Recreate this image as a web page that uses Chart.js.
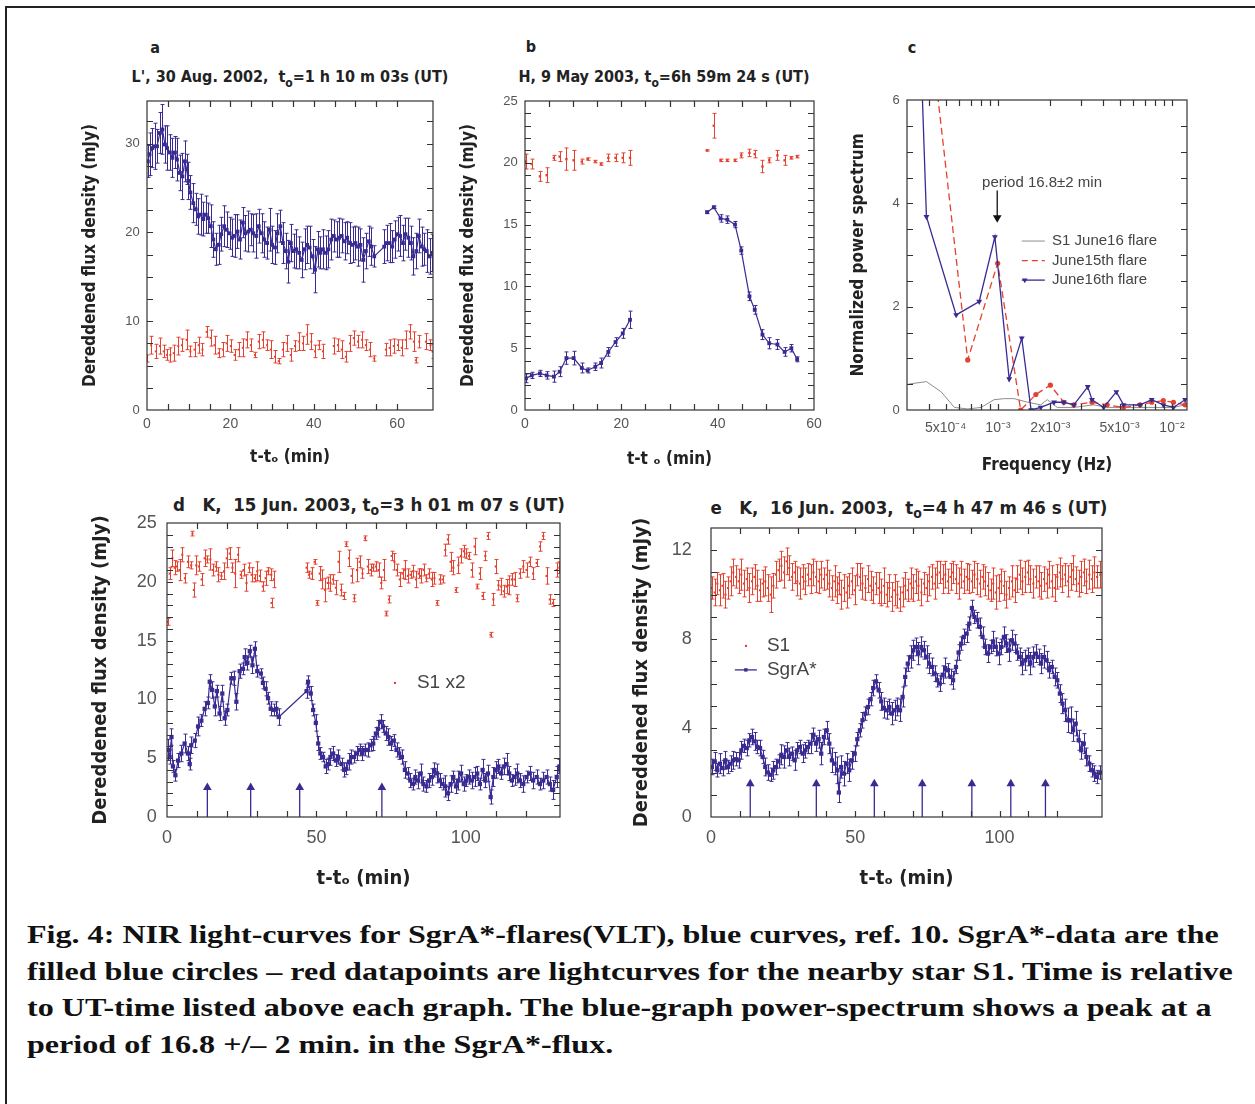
<!DOCTYPE html>
<html>
<head>
<meta charset="utf-8">
<script src="https://cdn.jsdelivr.net/npm/chart.js@4.4.1/dist/chart.umd.min.js"></script>
<style>
  body { margin: 0; background: #fff; width: 1255px; height: 1104px; position: relative; overflow: hidden;
         font-family: "Liberation Sans", Arial, sans-serif; }
  .frame { position: absolute; left: 5px; top: 6px; width: 1260px; height: 1200px;
           border-left: 2px solid #222; border-top: 2px solid #222; }
  canvas { position: absolute; }
  .hd { position: absolute; font-family: "Liberation Sans Narrow", "DejaVu Sans Condensed", "Liberation Sans", sans-serif;
        font-weight: bold; color: #222; white-space: pre; transform: translate(-50%, -50%); line-height: 1; }
  .hd sub { font-size: 0.75em; vertical-align: -0.35em; }
  .caption { position: absolute; left: 27px; top: 917px; font-family: "Liberation Serif", "Times New Roman", serif;
             font-weight: bold; font-size: 24.5px; line-height: 36.7px; color: #111; white-space: nowrap;
             transform: scaleX(1.31); transform-origin: 0 0; }
</style>
</head>
<body>
<div class="frame"></div>

<div class="hd" style="left:155px;top:48px;font-size:16px">a</div>
<div class="hd" style="left:290px;top:79px;font-size:16px">L', 30 Aug. 2002,  t<sub>o</sub>=1 h 10 m 03s (UT)</div>
<div class="hd" style="left:531px;top:47px;font-size:16px">b</div>
<div class="hd" style="left:664px;top:79px;font-size:16px">H, 9 May 2003, t<sub>o</sub>=6h 59m 24 s (UT)</div>
<div class="hd" style="left:912px;top:48px;font-size:16px">c</div>
<div class="hd" style="left:369px;top:507px;font-size:18.5px">d   K,  15 Jun. 2003, t<sub>o</sub>=3 h 01 m 07 s (UT)</div>
<div class="hd" style="left:909px;top:510px;font-size:18.5px">e   K,  16 Jun. 2003,  t<sub>o</sub>=4 h 47 m 46 s (UT)</div>

<canvas id="ca"></canvas>
<canvas id="cb"></canvas>
<canvas id="cc"></canvas>
<canvas id="cd"></canvas>
<canvas id="ce"></canvas>

<div class="caption">Fig. 4: NIR light-curves for SgrA*-flares(VLT), blue curves, ref. 10. SgrA*-data are the<br>filled blue circles – red datapoints are lightcurves for the nearby star S1. Time is relative<br>to UT-time listed above each graph. The blue-graph power-spectrum shows a peak at a<br>period of 16.8 +/– 2 min. in the SgrA*-flux.</div>

<script>
"use strict";

// ── panel a: L', 30 Aug 2002 ──────────────────────────────────────────────
const A_T_SGR = [0.2,0.6,1.3,1.8,2.4,3.1,3.7,4.3,4.8,5.5, 6.1,6.7,7.2,7.9,8.5,9.1,9.5,9.9,10.4,11.1,
  11.7,12.3,12.9,13.5,14.1,14.7,15.3,15.9,16.5,17.2, 17.8,18.5,19.1,19.8,20.4,21.0,21.7,22.3,23.0,23.6,
  24.3,24.9,25.5,26.2,26.8,27.5,28.1,28.8,29.4,30.0, 30.7,31.3,32.0,32.6,33.3,33.9,34.5,35.2,35.8,36.5,
  37.1,37.8,38.4,39.0,39.7,40.3,41.0,41.6,42.2,42.9, 43.5,44.2,44.8,45.5,46.1,46.7,47.4,48.0,48.7,49.3,
  50.0,50.6,51.2,51.9,52.5,53.2,53.8,54.5,56.9,57.5, 58.2,58.8,59.4,60.1,60.7,61.4,62.0,62.7,63.3,63.9,
  64.6,65.2,65.9,66.5,67.1,67.8,68.4];
const A_SGR = [28.0,28.8,29.5,29.7,29.7,31.2,31.6,29.9,29.5,29.0, 28.4,29.0,28.2,26.7,26.3,28.0,27.1,25.8,24.5,23.3,
  22.6,21.8,22.0,21.5,22.0,21.6,20.7,19.2,18.1,18.6, 19.8,20.7,20.3,19.9,19.4,19.6,20.1,19.2,21.1,19.9,
  20.1,20.3,19.9,19.6,20.7,19.9,19.2,18.8,20.3,18.6, 18.3,19.9,20.7,18.8,17.9,16.7,18.8,17.9,18.1,17.7,
  16.9,18.1,18.6,18.3,17.3,15.8,18.1,17.7,18.1,17.7, 18.1,19.2,19.6,19.2,19.4,19.6,19.0,19.4,18.8,18.6,
  18.8,18.4,18.6,16.9,17.9,19.0,18.4,17.3,18.4,18.8, 18.8,18.4,19.2,19.8,19.6,18.8,19.8,19.4,18.8,17.3,
  17.9,19.6,18.4,18.1,17.9,17.3,17.7];
const A_SGR_ERR = [1.8,2.4,2.2,2.6,1.9,2.3,2.8,2.1,2.5,2.0, 2.2,1.8,2.4,2.0,2.6,2.3,1.7,2.1,1.9,2.2,
  1.8,2.0,2.3,1.9,2.1,1.7,2.4,2.0,1.8,2.2, 1.9,2.3,2.0,1.8,2.1,2.4,1.9,2.2,1.7,2.0,
  2.3,1.8,2.1,2.5,1.9,2.2,2.0,1.8,2.4,2.1, 1.9,2.2,1.8,2.3,2.0,2.4,2.1,1.9,2.2,1.8,
  2.0,2.3,2.1,2.4,1.9,2.6,2.0,1.8,2.2,1.9, 2.1,2.3,1.8,2.0,2.2,1.9,2.1,1.8,2.3,2.0,
  1.9,2.2,1.8,2.5,2.0,1.7,2.1,1.2,1.9,2.0, 2.2,1.8,2.1,1.9,2.3,2.0,1.8,2.2,1.9,2.1,
  2.0,1.9,2.2,1.8,2.4,2.0,2.1];
const A_T_S1 = [0.0,1.0,2.1,3.1,4.0,4.8,5.6,6.4,7.5,8.4, 9.5,10.4,11.4,12.4,13.3,14.3,15.3,16.2,17.2,18.2,
  19.1,20.1,21.0,22.0,23.0,23.9,24.9,25.9,26.8,27.8, 28.8,29.7,30.7,31.6,32.6,33.6,34.5,35.5,36.5,37.4,
  38.4,39.4,40.3,41.3,42.2,44.8,45.8,46.7,47.7,48.7, 49.6,50.6,51.6,52.5,53.5,54.5,57.3,58.2,59.2,60.2,
  61.1,62.1,63.1,64.0,64.5,65.3,66.9,68.0,68.5];
const A_S1 = [5.8,7.3,6.6,7.2,6.6,6.2,6.2,6.4,7.2,7.3, 7.9,6.6,6.8,7.3,6.8,8.8,8.1,7.3,6.4,6.8,
  7.5,7.2,6.2,6.8,7.0,7.9,7.3,6.2,7.7,7.9, 7.3,6.8,6.0,5.5,6.8,7.5,6.2,7.2,7.7,7.5,
  8.5,7.7,6.6,7.3,6.6,7.2,7.3,6.8,6.0,7.5, 8.1,7.7,7.9,7.3,6.8,5.8,6.8,7.0,7.2,7.3,
  7.0,7.9,8.8,7.7,5.6,7.7,7.7,7.3,6.6];
const A_S1_ERR = [0.4,1.0,0.8,0.9,0.7,0.6,0.8,0.9,1.0,0.7, 1.1,0.6,0.8,0.9,0.7,0.6,0.9,1.0,0.5,0.8,
  0.9,0.7,0.6,0.8,1.0,0.9,0.7,0.3,0.8,0.9, 0.6,1.0,0.7,0.3,0.8,0.9,0.7,0.6,1.0,0.8,
  1.1,0.9,0.7,0.5,0.8,0.9,0.7,1.0,0.6,0.9, 0.8,0.7,0.9,0.6,0.8,0.3,0.7,0.9,0.8,0.6,
  0.9,1.0,0.8,1.1,0.3,0.7,0.9,0.6,0.8];

// ── panel b: H, 9 May 2003 (null = gap in the observation) ───────────────
const B_T = [0.2,1.4,3.1,4.5,6.0,7.2,8.6,10.1,11.8,13.0,14.6,15.8,17.3,18.8,20.3,21.8, 30,
  37.8,39.2,40.6,42.0,43.6,44.9,46.6,47.7,49.3,50.7,52.4,53.9,55.3,56.5];
const B_SGR = [2.56,2.8,2.96,2.8,2.7,3.1,4.2,4.2,3.4,3.2,3.5,3.8,4.7,5.5,6.2,7.3, null,
  16.0,16.4,15.5,15.4,15.0,12.9,9.2,8.1,6.1,5.4,5.3,4.7,5.0,4.1];
const B_SGR_ERR = [0.35,0.25,0.25,0.3,0.45,0.4,0.5,0.55,0.4,0.2,0.3,0.4,0.35,0.35,0.4,0.7, null,
  0.1,0.1,0.3,0.3,0.25,0.3,0.35,0.35,0.4,0.45,0.4,0.35,0.3,0.2];
const B_S1 = [20.1,19.9,18.9,19.0,20.4,20.5,20.3,20.2,20.1,20.3,20.1,19.9,20.4,20.4,20.4,20.4, null,
  21.0,23.0,20.2,20.2,20.2,20.6,20.8,20.7,19.7,20.2,20.6,20.2,20.4,20.5];
const B_S1_ERR = [0.6,0.4,0.4,0.6,0.2,0.4,0.9,0.8,0.2,0.1,0.1,0.1,0.3,0.3,0.4,0.6, null,
  0.05,1.0,0.1,0.1,0.1,0.2,0.3,0.3,0.5,0.2,0.4,0.4,0.1,0.1];

// ── panel c: power spectra ────────────────────────────────────────────────
const C_F_JUN16 = [3.3e-4,3.88e-4,5.75e-4,7.8e-4,9.6e-4,1.16e-3,1.37e-3,1.55e-3,1.76e-3,2.1e-3,2.39e-3,
  2.73e-3,3.28e-3,3.47e-3,4.05e-3,4.79e-3,5.27e-3,6.56e-3,7.65e-3,8.92e-3,1.02e-2,1.19e-2];
const C_JUN16 = [10.7,3.74,1.84,2.1,3.35,0.6,1.39,0.0,0.05,0.15,0.15,0.1,0.45,0.2,0.05,0.35,0.1,0.1,0.2,0.1,0.05,0.2];
const C_F_JUN15 = [3.88e-4,6.7e-4,9.96e-4,1.35e-3,1.65e-3,2.0e-3,2.39e-3,2.73e-3,3.47e-3,4.24e-3,5.27e-3,
  6.56e-3,7.65e-3,8.92e-3,1.02e-2,1.19e-2];
const C_JUN15 = [8.0,0.97,2.84,0.0,0.3,0.48,0.15,0.1,0.15,0.1,0.05,0.1,0.15,0.18,0.15,0.1];
const C_F_S1 = [3.05e-4,3.88e-4,4.72e-4,5.62e-4,6.7e-4,8.0e-4,9.5e-4,1.09e-3,1.24e-3,1.48e-3,1.76e-3,1.92e-3,
  2.19e-3,2.73e-3,3.55e-3,4.24e-3,6.56e-3,1.02e-2,1.19e-2];
const C_S1 = [0.5,0.55,0.35,0.05,0.02,0.05,0.2,0.22,0.22,0.15,0.1,0.2,0.05,0.05,0.1,0.05,0.05,0.05,0.1];
const C_PERIOD_F = 9.9e-4;
const C_PERIOD_ARROW = [4.25, 3.72];
const C_TICKS = [5e-4, 1e-3, 2e-3, 5e-3, 1e-2];
const C_TICK_LABELS = ["5x10⁻⁴", "10⁻³", "2x10⁻³", "5x10⁻³", "10⁻²"];
const C_MINOR = [3e-4, 4e-4, 6e-4, 7e-4, 8e-4, 9e-4, 3e-3, 4e-3, 6e-3, 7e-3, 8e-3, 9e-3];

// ── panel d: K, 15 Jun 2003 ───────────────────────────────────────────────
const D_T_SGR = [0.3,0.9,1.5,2.0,2.8,3.7,4.8,5.9,7.0,7.6, 8.1,9.3,10.4,11.5,12.6,13.7,14.3,15.1,16.0,16.7,
  17.6,18.5,19.3,20.2,21.5,22.3,23.2,24.3,25.4,26.0, 26.9,27.7,28.6,29.4,30.2,31.4,32.1,33.0,33.8,34.7,
  35.7,36.6,37.4,
  46.7,47.2,48.1,48.9,49.8,50.6,51.3,52.2,53.1,53.9, 54.7,55.6,56.5,57.3,58.4,59.3,60.0,60.9,61.7,62.6,
  63.6,64.5,65.4,66.3,67.2,68.1,69.0,69.9,70.6,71.5, 72.3,73.2,74.1,75.0,75.9,76.8,77.7,78.6,79.6,80.5,
  81.4,82.3,83.1,84.0,84.9,85.8,86.8,87.7,88.6,89.5, 90.4,91.3,92.2,93.1,94.0,94.9,95.8,96.7,97.5,98.4,
  99.3,100.2,101.1,102.0,102.9,103.8,104.7,105.6,106.5,107.4, 108.3,109.2,110.0,110.9,111.8,112.7,113.6,114.5,115.4,116.3,
  117.2,118.1,119.2,120.3,121.4,122.5,123.7,124.8,125.9,127.0, 128.1,129.2,130.4,131.3];
const D_SGR = [5.7,5.1,6.8,4.3,3.55,4.8,5.4,6.25,5.4,4.5, 6.1,6.5,7.7,8.2,9.2,9.7,11.5,10.8,9.4,10.7,
  8.8,10.5,8.4,9.1,11.8,11.8,9.8,12.4,12.6,13.6, 13.1,14.1,12.9,14.3,12.4,12.2,11.4,10.9,10.1,9.2,
  9.1,9.2,8.5,
  10.7,11.5,10.5,9.1,8.0,6.25,5.4,5.1,4.3,4.5, 5.1,5.4,4.8,5.1,4.5,4.0,4.1,4.7,5.1,5.1,
  5.4,5.7,5.4,5.7,5.7,6.1,6.25,7.1,7.5,8.1, 7.7,7.1,6.8,6.25,6.5,5.7,5.4,5.1,4.0,3.7,
  3.1,2.8,3.4,3.1,3.7,2.8,2.6,3.1,3.4,4.0, 3.7,3.1,2.8,2.6,2.0,2.8,3.4,2.6,3.1,3.7,
  2.8,3.1,3.4,3.1,3.4,3.7,2.8,4.0,3.1,3.7, 1.7,3.4,4.0,4.3,3.7,4.3,4.5,3.7,3.1,3.4,
  3.7,3.1,2.8,3.4,3.7,3.1,3.4,2.8,3.1,3.4, 2.8,2.3,3.4,4.3];
const D_SGR_ERR = [0.9,0.6,0.7,0.5,0.5,0.6,0.7,0.8,0.6,0.5, 0.7,0.6,0.8,0.5,0.6,0.5,0.6,0.7,0.8,0.5,
  0.6,0.7,0.6,0.5,0.5,0.6,0.7,0.6,0.5,0.7, 0.6,0.5,0.7,0.6,0.5,0.4,0.5,0.6,0.5,0.6,
  0.5,0.6,0.7,
  0.6,0.5,0.6,0.5,0.7,0.6,0.5,0.4,0.6,0.5, 0.7,0.6,0.5,0.6,0.5,0.6,0.5,0.7,0.6,0.5,
  0.6,0.5,0.6,0.5,0.6,0.5,0.6,0.5,0.7,0.6, 0.5,0.6,0.7,0.6,0.5,0.6,0.5,0.6,0.7,0.5,
  0.6,0.5,0.6,0.7,0.8,0.6,0.5,0.6,0.7,0.6, 0.8,0.6,0.5,0.9,0.6,0.7,0.5,0.6,0.8,0.7,
  0.6,0.5,0.6,0.7,0.8,0.6,0.5,0.9,0.6,0.7, 0.6,0.8,0.7,0.6,0.5,0.7,0.9,0.6,0.5,0.7,
  0.8,0.6,0.7,0.5,0.6,0.7,0.6,0.5,0.7,0.6, 0.6,0.8,0.9,0.6];
const D_T_S1 = [0.3,0.9,1.8,2.6,3.3,4.2,5.1,6.0,7.0,8.1, 8.5,9.0,9.8,10.7,11.6,12.6,13.5,14.5,15.4,16.3,
  17.2,18.2,19.1,20.0,21.0,21.9,22.8,23.8,24.7,25.6, 26.6,27.5,28.3,29.4,30.2,31.1,32.1,33.0,33.9,34.9,
  35.0,35.8,
  46.7,47.5,48.4,49.4,50.3,51.1,52.0,52.9, 53.8,54.7,55.6,56.5,57.4,58.3,59.2,60.0,60.9,61.8,
  62.7,63.6,64.5,65.4,66.3,67.2,68.1,69.0,69.9,70.8, 71.7,72.6,73.4,74.3,75.2,76.1,77.0,77.9,78.8,79.7,
  80.6,81.5,82.4,83.3,84.2,85.0,85.9,86.8,87.7,88.6, 89.5,90.4,91.3,92.2,93.1,94.0,94.9,95.8,96.7,97.5,
  98.4,99.3,100.2,101.1,102.0,102.9,103.8,104.7,105.6,106.5, 107.4,108.3,109.2,110.0,110.9,111.8,112.7,113.6,114.5,115.4,
  116.3,117.2,118.1,119.2,120.3,121.4,122.5,123.7,124.8,125.9, 127.0,128.1,129.2,130.4,131.3];
const D_S1 = [16.6,20.7,22.0,21.2,21.3,21.0,22.3,20.3,21.7,21.4, 24.1,19.3,21.4,21.3,20.2,22.0,21.9,21.9,21.0,21.3,
  20.6,20.5,20.9,22.0,22.4,21.2,20.7,22.3,20.6,21.0, 19.9,21.2,20.6,20.3,20.9,20.5,19.6,20.3,20.9,20.6,
  18.2,20.2,
  21.2,20.6,20.7,21.7,18.2,20.7,20.2,19.3, 19.9,19.9,20.2,19.5,21.7,19.3,18.8,23.2,22.0,20.5,
  18.6,21.0,21.7,20.7,23.7,21.3,21.0,21.2,21.3,21.0, 19.9,21.0,17.3,18.5,22.2,21.7,21.0,20.2,20.7,21.0,
  20.5,20.6,20.9,20.2,20.7,20.5,21.0,20.3,20.7,20.2, 20.3,18.2,20.2,20.2,22.7,23.6,21.7,21.2,19.3,21.4,
  22.2,22.6,22.4,22.2,21.0,23.0,19.6,20.7,18.8,22.2, 23.9,15.5,18.5,21.3,19.7,19.6,19.2,19.6,19.7,20.2,
  20.2,18.6,20.7,21.3,21.0,21.7,20.7,21.6,23.0,23.9, 20.5,18.5,18.2,21.0,21.2];
const D_S1_ERR = [0.3,0.5,0.7,0.6,0.4,0.9,0.6,0.4,0.5,0.3, 0.2,0.6,0.8,0.4,0.5,0.7,0.3,0.9,0.5,0.4,
  0.6,0.3,0.7,0.8,0.5,0.4,1.2,0.6,0.3,0.5, 0.7,0.4,0.6,0.3,0.8,0.5,0.4,0.6,0.3,0.5,
  0.4,0.7,
  0.4,0.3,0.5,0.2,0.2,0.6,0.8,1.0, 0.5,0.7,0.4,0.6,0.9,0.5,0.3,0.2,0.7,0.6,
  0.3,1.0,0.5,0.4,0.2,0.6,0.5,0.3,0.4,0.6, 0.5,0.9,0.2,0.3,0.4,0.7,0.5,0.6,0.4,0.8,
  0.6,0.3,0.5,0.7,0.4,0.6,0.5,0.3,0.4,0.6, 0.5,0.2,0.4,0.3,0.5,0.4,0.8,0.6,0.2,0.7,
  0.6,0.5,0.4,0.3,0.6,0.7,0.2,0.5,0.3,0.4, 0.3,0.2,0.5,0.6,0.4,0.7,0.5,0.6,0.8,0.5,
  0.6,0.3,0.4,0.5,0.6,0.4,0.5,0.3,0.4,0.3, 0.7,0.4,0.3,0.6,0.5];
const D_ARROWS = [13.5, 28.0, 44.4, 71.9];
const D_ARROW_TOP = 2.5;

// ── panel e: K, 16 Jun 2003 (S1 and SgrA* share the time grid) ───────────
const E_T = [0.3,1.3,2.2,3.1,4.0,5.0,5.9,6.8,7.7,8.7, 9.6,10.5,11.4,12.4,13.3,14.2,15.1,16.1,17.0,17.9,
  18.8,19.7,20.7,21.6,22.5,23.4,24.4,25.3,26.2,27.1, 28.1,29.0,29.9,30.8,31.8,32.7,33.6,34.5,35.5,36.4,
  37.3,38.2,39.1,40.1,41.0,41.9,42.8,43.8,44.3,45.1, 46.1,47.0,47.9,48.8,49.8,50.7,51.6,52.5,53.5,54.4,
  55.3,56.2,57.2,58.1,59.0,59.9,60.9,61.8,62.7,63.6, 64.6,65.5,66.4,67.3,68.2,69.2,70.1,71.0,71.9,72.9,
  73.8,74.7,75.6,76.6,77.5,78.4,79.3,80.3,81.2,82.1, 83.0,83.9,84.9,85.8,86.7,87.6,88.6,89.5,90.4,91.3,
  92.3,93.2,94.1,95.0,96.0,96.9,97.8,98.7,99.7,100.6, 101.5,102.4,103.3,104.3,105.2,106.1,107.0,107.9,108.9,109.8,
  110.7,111.7,112.6,113.5,114.4,115.4,116.3,117.2,118.1,119.1, 120.0,120.9,121.8,122.7,123.7,124.6,125.5,126.4,127.4,128.3,
  129.2,130.1,131.1,132.0,132.9,133.8,134.9];
const E_SGR = [2.25,2.5,2.1,2.4,2.2,2.55,2.25,2.4,2.55,2.6, 2.55,3.0,3.2,3.1,3.45,3.6,3.4,3.15,3.1,2.7,
  2.25,2.0,1.9,2.1,2.25,2.5,2.8,2.7,3.0,2.7, 2.85,2.55,3.0,3.15,2.85,3.0,3.15,3.3,3.7,3.3,
  3.5,2.85,3.6,3.9,3.3,2.55,2.4,2.1,1.1,2.25, 1.95,2.4,2.1,2.55,2.85,3.5,3.9,4.35,4.65,4.95,
  5.3,5.8,6.1,5.7,5.2,4.9,4.8,4.95,4.65,4.8, 4.95,4.8,5.4,6.3,6.9,7.2,7.5,7.65,7.35,7.65,
  7.5,7.2,6.9,6.75,6.45,6.15,6.0,6.4,6.7,6.6, 6.3,6.15,6.75,7.4,7.8,8.1,8.25,8.7,9.4,9.0,
  8.85,8.55,8.1,7.65,7.35,7.65,7.9,7.65,7.35,7.65, 8.1,7.8,7.5,7.95,7.8,7.4,7.2,6.9,7.05,7.2,
  6.9,7.2,7.35,7.2,6.9,7.2,7.05,6.6,6.75,6.3, 6.15,5.55,5.1,4.8,4.35,4.35,3.9,4.2,3.45,3.0,
  3.3,2.7,2.4,2.1,1.95,1.8,2.0];
const E_SGR_ERR = [0.35,0.4,0.3,0.45,0.35,0.4,0.3,0.35,0.4,0.3, 0.35,0.4,0.3,0.35,0.3,0.35,0.4,0.3,0.35,0.3,
  0.4,0.35,0.3,0.4,0.35,0.3,0.45,0.5,0.35,0.4, 0.3,0.45,0.35,0.3,0.4,0.35,0.3,0.45,0.3,0.35,
  0.4,0.5,0.35,0.4,0.45,0.55,0.5,0.6,0.45,0.5, 0.55,0.45,0.5,0.4,0.35,0.3,0.3,0.35,0.3,0.35,
  0.3,0.35,0.3,0.35,0.4,0.45,0.4,0.35,0.5,0.45, 0.4,0.5,0.45,0.4,0.35,0.5,0.45,0.4,0.5,0.45,
  0.4,0.5,0.45,0.4,0.35,0.3,0.35,0.4,0.45,0.3, 0.35,0.4,0.3,0.35,0.3,0.35,0.4,0.3,0.35,0.3,
  0.35,0.4,0.45,0.35,0.4,0.3,0.45,0.4,0.5,0.35, 0.45,0.4,0.5,0.45,0.4,0.35,0.4,0.5,0.45,0.4,
  0.5,0.45,0.4,0.35,0.45,0.5,0.4,0.35,0.3,0.4, 0.35,0.4,0.45,0.5,0.55,0.6,0.5,0.55,0.45,0.4,
  0.45,0.4,0.35,0.3,0.35,0.3,0.3];
const E_S1 = [10.3,10.1,10.5,10.2,10.4,10.0,10.3,10.6, 11.0,10.8,10.6,10.9,10.5,10.7,10.3,10.6,10.8,10.4,
  10.2,10.5,10.6,10.3,10.0,10.4, 10.9,11.1,11.3,11.0,11.5,11.2,10.8,11.0,10.6,
  10.5,10.8,10.6,10.9,10.7,11.0,10.8,10.6,10.9,10.7,10.9,10.5,10.3,10.6,
  10.2,10.5,10.0,10.3,10.1,10.4,10.6,10.2,10.9, 10.8,10.5,10.3,10.7,10.4,10.2,10.5,10.3,10.1,10.4,10.0,
  10.3,9.9,10.2,10.0,9.8,10.1,10.4,10.2,10.5, 10.3,10.6,10.4,10.1,10.5,10.3,10.6,10.8,10.5,10.9,
  11.0,10.7,10.9,10.6,10.8,11.0,10.7,10.5,10.9,10.6,10.8,10.7, 10.6,10.9,10.7,10.5,10.8,10.6,10.4,10.2,10.5,10.1,10.3,10.6,
  10.4,10.0,10.3,10.6,10.2,10.7,10.9,10.6,10.8,11.0,10.7,10.5, 10.8,10.6,10.4,10.7,10.5,10.9,10.6,10.3,10.8,11.0,
  10.7,10.9,10.6,10.8,11.1,10.7,10.5,10.8,11.0,10.6,10.9,10.7,11.0,10.8,10.9];
const E_S1_ERR = [0.5,0.6,0.5,0.7,0.55,0.6,0.5,0.65,0.6,0.5, 0.55,0.7,0.6,0.5,0.65,0.6,0.55,0.7,0.5,0.6,
  0.65,0.6,0.8,0.55,0.6,0.5,0.65,0.7,0.6,0.55, 0.6,0.5,0.65,0.7,0.55,0.6,0.5,0.65,0.6,0.7,
  0.55,0.6,0.5,0.65,0.6,0.55,0.7,0.6,0.5,0.65, 0.6,0.7,0.55,0.6,0.65,0.5,0.6,0.7,0.55,0.6,
  0.65,0.6,0.5,0.7,0.6,0.8,0.55,0.6,0.65,0.7, 0.6,0.55,0.65,0.6,0.5,0.7,0.6,0.55,0.65,0.6,
  0.5,0.6,0.65,0.55,0.7,0.6,0.5,0.65,0.6,0.55, 0.6,0.5,0.65,0.7,0.6,0.55,0.6,0.65,0.5,0.6,
  0.7,0.6,0.55,0.65,0.6,0.5,0.7,0.75,0.6,0.55, 0.65,0.6,0.5,0.7,0.55,0.6,0.65,0.6,0.7,0.55,
  0.6,0.65,0.5,0.7,0.6,0.55,0.65,0.6,0.7,0.6, 0.55,0.65,0.6,0.5,0.7,0.6,0.65,0.55,0.6,0.7,
  0.6,0.55,0.65,0.6,0.7,0.5,0.6];
const E_ARROWS = [13.6, 36.5, 56.6, 73.2, 90.4, 103.9, 115.9];
const E_ARROW_TOP = 1.5;

// ── styling ───────────────────────────────────────────────────────────────
const BLUE = "#392b92", RED = "#e5412e", GREY = "#8c8c8c", INK = "#333";
const SANS = '"Liberation Sans", Arial, sans-serif';
const NARROW = '"Liberation Sans Narrow", "DejaVu Sans Condensed", "Liberation Sans", sans-serif';
Chart.defaults.font.family = SANS;
Chart.defaults.color = "#555";
Chart.defaults.animation = false;

// plot-area boxes in page pixels, room for the axes, y tick font size and gap
const GA = { L: 147, T: 101, R: 433, B: 410, yw: 75, xh: 62, pt: 10, pr: 12, ysz: 13, ypad: 7.2 };
const GB = { L: 525, T: 101, R: 814, B: 410, yw: 75, xh: 62, pt: 10, pr: 16, ysz: 13, ypad: 7.2 };
const GC = { L: 907, T: 100, R: 1187, B: 410, yw: 67, xh: 74, pt: 10, pr: 14, ysz: 13, ypad: 7.2 };
const GD = { L: 167, T: 523, R: 560, B: 817, yw: 87, xh: 76, pt: 8, pr: 12, ysz: 18, ypad: 10.2 };
const GE = { L: 711, T: 528, R: 1102, B: 817, yw: 88, xh: 76, pt: 8, pr: 12, ysz: 18, ypad: 19.2 };

const pts = (xs, ys) => xs.map((x, i) => ({ x, y: ys[i] }));

// Chart.js keeps half a y label plus the tick gap free above the plot
const topInset = (g) => Math.max(g.pt, g.ysz * 0.6 + g.ypad);

function place(id, g) {
  const c = document.getElementById(id);
  const top = topInset(g);
  c.width = g.R - g.L + g.yw + g.pr;
  c.height = Math.round(g.B - g.T + top + g.xh);
  c.style.left = g.L - g.yw + "px";
  c.style.top = Math.round(g.T - top) + "px";
  return c;
}

function axis(o) {
  const horiz = o.pos === "x";
  const cfg = {
    type: o.type || "linear",
    min: o.min, max: o.max,
    grid: { display: false, drawTicks: false },
    border: { display: false },
    ticks: {
      stepSize: o.step, autoSkip: false, maxRotation: 0, padding: o.pad,
      font: { size: o.size }, color: "#555",
      callback: o.label || ((v) => (Math.abs(v / o.major - Math.round(v / o.major)) < 1e-6 ? String(v) : "")),
    },
    title: {
      display: true, text: o.title, color: "#222",
      font: { family: NARROW, size: o.tsize, weight: "bold" },
      padding: horiz ? { top: 0, bottom: o.tpad } : { top: o.tpad, bottom: 0 },
    },
    afterFit: (s) => { if (horiz) s.height = o.fit; else s.width = o.fit; },
  };
  if (o.ticks) cfg.afterBuildTicks = (s) => { s.ticks = o.ticks.map((v) => ({ value: v })); };
  return cfg;
}

function base(g, scales) {
  return {
    responsive: false,
    animation: false,
    layout: { padding: { top: g.pt, right: g.pr, left: 0, bottom: 0 } },
    plugins: { legend: { display: false }, tooltip: { enabled: false } },
    elements: { line: { tension: 0 } },
    scales,
  };
}

// vertical error bars from each dataset's `errors` list
const errorBars = {
  id: "errorBars",
  afterDatasetsDraw(chart) {
    const { ctx, chartArea: a } = chart;
    const ys = chart.scales.y;
    chart.data.datasets.forEach((ds, i) => {
      if (!ds.errors) return;
      const meta = chart.getDatasetMeta(i);
      ctx.save();
      ctx.beginPath();
      ctx.rect(a.left, a.top, a.right - a.left, a.bottom - a.top);
      ctx.clip();
      ctx.strokeStyle = ds.borderColor;
      ctx.lineWidth = 1;
      ctx.beginPath();
      meta.data.forEach((el, j) => {
        const v = ds.data[j].y, e = ds.errors[j];
        if (v == null || e == null) return;
        const y1 = ys.getPixelForValue(v - e), y2 = ys.getPixelForValue(v + e);
        const x = Math.round(el.x) + 0.5;
        ctx.moveTo(x, y1); ctx.lineTo(x, y2);
        ctx.moveTo(x - 2, y1); ctx.lineTo(x + 2, y1);
        ctx.moveTo(x - 2, y2); ctx.lineTo(x + 2, y2);
      });
      ctx.stroke();
      ctx.restore();
    });
  },
};

// box round the plot with inward ticks on all four sides
const frameTicks = {
  id: "frameTicks",
  afterDraw(chart) {
    const { ctx, chartArea: a } = chart;
    const len = 6;
    ctx.save();
    ctx.strokeStyle = INK;
    ctx.lineWidth = 1.2;
    ctx.strokeRect(a.left, a.top, a.right - a.left, a.bottom - a.top);
    ctx.beginPath();
    const sx = chart.scales.x, sy = chart.scales.y;
    sx.ticks.forEach((t) => {
      const p = Math.round(sx.getPixelForValue(t.value)) + 0.5;
      if (p <= a.left + 1 || p >= a.right - 1) return;
      ctx.moveTo(p, a.bottom); ctx.lineTo(p, a.bottom - len);
      ctx.moveTo(p, a.top); ctx.lineTo(p, a.top + len);
    });
    sy.ticks.forEach((t) => {
      const p = Math.round(sy.getPixelForValue(t.value)) + 0.5;
      if (p <= a.top + 1 || p >= a.bottom - 1) return;
      ctx.moveTo(a.left, p); ctx.lineTo(a.left + len, p);
      ctx.moveTo(a.right, p); ctx.lineTo(a.right - len, p);
    });
    ctx.stroke();
    ctx.restore();
  },
};

// in-plot legends and labels, placed as fractions of the plot area
function notes(items) {
  return {
    id: "notes",
    afterDraw(chart) {
      const { ctx, chartArea: a } = chart;
      const px = (f) => a.left + f * (a.right - a.left);
      const py = (f) => a.top + f * (a.bottom - a.top);
      ctx.save();
      items.forEach((it) => {
        const x = px(it.x), y = py(it.y);
        ctx.strokeStyle = it.color || INK;
        ctx.fillStyle = it.color || INK;
        if (it.line) {
          ctx.lineWidth = it.width || 1;
          ctx.setLineDash(it.dash || []);
          ctx.beginPath(); ctx.moveTo(x, y); ctx.lineTo(x + it.line, y); ctx.stroke();
          ctx.setLineDash([]);
        }
        if (it.marker) {
          Chart.helpers.drawPoint(ctx, { pointStyle: it.marker, radius: it.r, rotation: it.rot || 0, borderWidth: 0 },
            x + (it.mx || 0), y);
        }
        if (it.text) {
          ctx.font = it.font;
          ctx.fillStyle = it.tcolor || "#444";
          ctx.textBaseline = "middle";
          ctx.fillText(it.text, x, y);
        }
      });
      ctx.restore();
    },
  };
}

function arrowSet(xs, top, color) {
  return {
    data: xs.flatMap((x) => [{ x, y: 0 }, { x, y: top }, { x, y: null }]),
    borderColor: color, backgroundColor: color, borderWidth: 1.3, spanGaps: false,
    pointStyle: "triangle", pointBorderWidth: 0,
    pointRadius: (c) => (c.raw && c.raw.y === top ? 5 : 0),
  };
}

const blueSet = (data, errors, r) => ({
  data, errors, borderColor: BLUE, backgroundColor: BLUE, borderWidth: 1.2, spanGaps: false,
  pointStyle: "rect", pointRadius: r, pointBorderWidth: 0,
});
const redSet = (data, errors, r) => ({
  data, errors, borderColor: RED, backgroundColor: RED, showLine: false,
  pointStyle: "rect", pointRadius: r, pointBorderWidth: 0,
});

// ── a ──
new Chart(place("ca", GA), {
  type: "line",
  data: { datasets: [blueSet(pts(A_T_SGR, A_SGR), A_SGR_ERR, 2.7), redSet(pts(A_T_S1, A_S1), A_S1_ERR, 1.4)] },
  options: base(GA, {
    x: axis({ pos: "x", min: 0, max: 68.6, step: 5, major: 20, size: 14, pad: 6, title: "t-tₒ (min)", tsize: 17, tpad: 4, fit: GA.xh }),
    y: axis({ pos: "y", min: 0, max: 34.8, step: 2.5, major: 10, size: GA.ysz, pad: GA.ypad, title: "Dereddened flux density (mJy)", tsize: 17, tpad: 8, fit: GA.yw }),
  }),
  plugins: [errorBars, frameTicks],
});

// ── b ──
new Chart(place("cb", GB), {
  type: "line",
  data: { datasets: [blueSet(pts(B_T, B_SGR), B_SGR_ERR, 2.7), redSet(pts(B_T, B_S1), B_S1_ERR, 1.7)] },
  options: base(GB, {
    x: axis({ pos: "x", min: 0, max: 60, step: 5, major: 20, size: 14, pad: 6, title: "t-t ₒ (min)", tsize: 17, tpad: 2, fit: GB.xh }),
    y: axis({ pos: "y", min: 0, max: 25, step: 1, major: 5, size: GB.ysz, pad: GB.ypad, title: "Dereddened flux density (mJy)", tsize: 17, tpad: 8, fit: GB.yw }),
  }),
  plugins: [errorBars, frameTicks],
});

// ── c ──
const cLabel = (v) => {
  const i = C_TICKS.findIndex((t) => Math.abs(t - v) / t < 1e-6);
  return i >= 0 ? C_TICK_LABELS[i] : "";
};
new Chart(place("cc", GC), {
  type: "line",
  data: { datasets: [
    { data: [{ x: C_PERIOD_F, y: C_PERIOD_ARROW[0] }, { x: C_PERIOD_F, y: C_PERIOD_ARROW[1] }],
      borderColor: "#111", backgroundColor: "#111", borderWidth: 1.3, pointStyle: "triangle", rotation: 180,
      pointBorderWidth: 0, pointRadius: [0, 5] },
    { data: pts(C_F_JUN16, C_JUN16), borderColor: BLUE, backgroundColor: BLUE, borderWidth: 1.3,
      pointStyle: "triangle", rotation: 180, pointRadius: 3.4, pointBorderWidth: 0 },
    { data: pts(C_F_JUN15, C_JUN15), borderColor: RED, backgroundColor: RED, borderWidth: 1.3, borderDash: [7, 4],
      pointStyle: "circle", pointRadius: 2.6, pointBorderWidth: 0 },
    { data: pts(C_F_S1, C_S1), borderColor: GREY, borderWidth: 1, pointRadius: 0 },
  ] },
  options: base(GC, {
    x: axis({ pos: "x", type: "logarithmic", min: 3e-4, max: 1.22e-2, size: 14, pad: 10, label: cLabel,
      ticks: C_TICKS.concat(C_MINOR).sort((p, q) => p - q), title: "Frequency (Hz)", tsize: 17, tpad: 8, fit: GC.xh }),
    y: axis({ pos: "y", min: 0, max: 6, step: 0.5, major: 2, size: GC.ysz, pad: GC.ypad, title: "Normalized power spectrum", tsize: 17, tpad: 8, fit: GC.yw }),
  }),
  plugins: [frameTicks, notes([
    { x: 0.268, y: 0.268, text: "period 16.8±2 min", font: "15px " + SANS },
    { x: 0.41, y: 0.455, line: 23, color: GREY },
    { x: 0.518, y: 0.455, text: "S1 June16 flare", font: "15px " + SANS },
    { x: 0.41, y: 0.518, line: 23, color: RED, dash: [6, 4], width: 1.3 },
    { x: 0.518, y: 0.518, text: "June15th flare", font: "15px " + SANS },
    { x: 0.41, y: 0.581, line: 23, color: BLUE, width: 1.3, marker: "triangle", r: 3.2, rot: 180, mx: 3 },
    { x: 0.518, y: 0.581, text: "June16th flare", font: "15px " + SANS },
  ])],
});

// ── d ──
new Chart(place("cd", GD), {
  type: "line",
  data: { datasets: [
    arrowSet(D_ARROWS, D_ARROW_TOP, BLUE),
    blueSet(pts(D_T_SGR, D_SGR), D_SGR_ERR, 3),
    redSet(pts(D_T_S1, D_S1), D_S1_ERR, 1.5),
  ] },
  options: base(GD, {
    x: axis({ pos: "x", min: 0, max: 131.5, step: 10, major: 50, size: 18, pad: 10, title: "t-tₒ (min)", tsize: 20, tpad: 2, fit: GD.xh }),
    y: axis({ pos: "y", min: 0, max: 25, step: 1, major: 5, size: GD.ysz, pad: GD.ypad, title: "Dereddened flux density (mJy)", tsize: 20, tpad: 9, fit: GD.yw }),
  }),
  plugins: [errorBars, frameTicks, notes([
    { x: 0.58, y: 0.544, marker: "rect", r: 1.5, color: RED },
    { x: 0.636, y: 0.544, text: "S1 x2", font: "19px " + SANS },
  ])],
});

// ── e ──
new Chart(place("ce", GE), {
  type: "line",
  data: { datasets: [
    arrowSet(E_ARROWS, E_ARROW_TOP, BLUE),
    blueSet(pts(E_T, E_SGR), E_SGR_ERR, 3),
    redSet(pts(E_T, E_S1), E_S1_ERR, 1.5),
  ] },
  options: base(GE, {
    x: axis({ pos: "x", min: 0, max: 135.5, step: 10, major: 50, size: 18, pad: 10, title: "t-tₒ (min)", tsize: 20, tpad: 2, fit: GE.xh }),
    y: axis({ pos: "y", min: 0, max: 13, step: 1, major: 4, size: GE.ysz, pad: GE.ypad, title: "Dereddened flux density (mJy)", tsize: 20, tpad: 7, fit: GE.yw }),
  }),
  plugins: [errorBars, frameTicks, notes([
    { x: 0.0895, y: 0.408, marker: "rect", r: 1.5, color: RED },
    { x: 0.143, y: 0.408, text: "S1", font: "19px " + SANS },
    { x: 0.061, y: 0.491, line: 22, color: BLUE, width: 1.3, marker: "rect", r: 2.4, mx: 11 },
    { x: 0.143, y: 0.491, text: "SgrA*", font: "19px " + SANS },
  ])],
});
</script>
</body>
</html>
